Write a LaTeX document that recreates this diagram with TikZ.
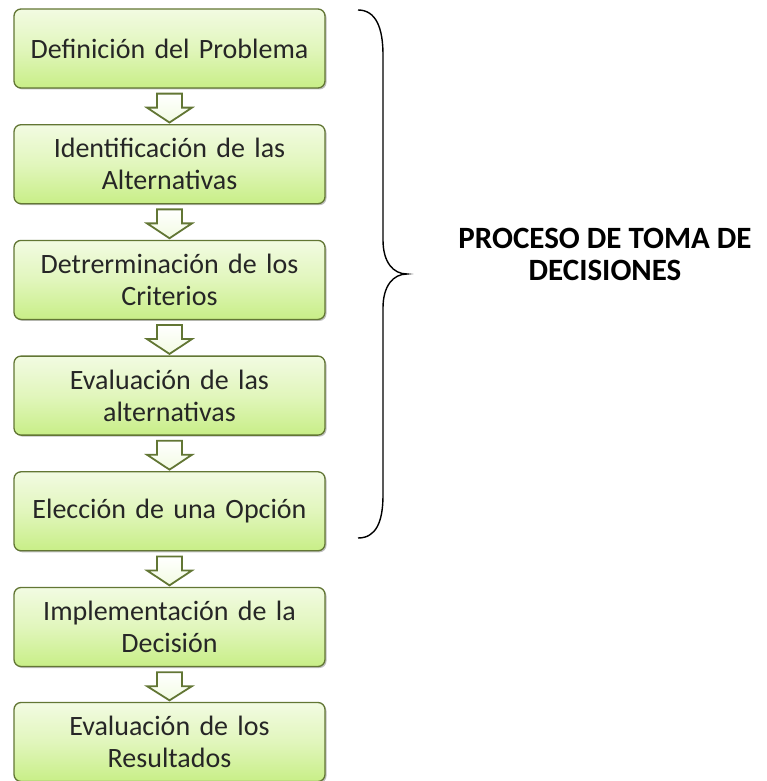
\documentclass[tikz,border=0pt]{standalone}
\usepackage{fontspec}
\setmainfont{Carlito}
\usetikzlibrary{calc,shadows}
\definecolor{boxtop}{RGB}{242,251,226}
\definecolor{boxmid}{RGB}{225,246,188}
\definecolor{boxbot}{RGB}{200,238,135}
\definecolor{olive}{RGB}{98,118,52}
\tikzset{
  stepbox/.style={draw=olive, line width=1.3pt, rounded corners=7pt,
    minimum width=311pt, minimum height=79pt, text width=305pt, align=center,
    top color=boxtop, bottom color=boxbot, middle color=boxmid,
    drop shadow={shadow xshift=1.5pt, shadow yshift=-1.5pt, opacity=0.25, fill=black},
    font=\fontsize{28}{32}\selectfont, text=black!85, inner sep=0pt},
  blockarrow/.style={draw=olive, line width=1.8pt, line join=miter,
    top color=white, bottom color=boxtop},
  bracestyle/.style={draw=black, line width=1.4pt},
  titletext/.style={font=\bfseries\fontsize{31}{32}\selectfont, align=center}
}
\newcommand{\blockarr}[2]{%
  \path[blockarrow] ($(#1.south)+(-12.5,5)$) -- ++(25,0) -- ++(0,14) -- ++(10,0)
    -- ($(#2.north)+(0,-1.5)$) -- ($(#1.south)+(-22.5,19)$) -- ++(10,0) -- cycle;}
\begin{document}
\begin{tikzpicture}[x=1pt,y=-1pt]
\useasboundingbox (0,0) rectangle (766,781);
\node[stepbox] (b1) at (169.5,48.5) {Definición del Problema};
\node[stepbox] (b2) at (169.5,164.2) {Identificación de las\\Alternativas};
\node[stepbox] (b3) at (169.5,279.9) {Detrerminación de los\\Criterios};
\node[stepbox] (b4) at (169.5,395.6) {Evaluación de las\\alternativas};
\node[stepbox] (b5) at (169.5,511.3) {Elección de una Opción};
\node[stepbox] (b6) at (169.5,627.0) {Implementación de la\\Decisión};
\node[stepbox] (b7) at (169.5,742.0) {Evaluación de los\\Resultados};
\blockarr{b1}{b2}
\blockarr{b2}{b3}
\blockarr{b3}{b4}
\blockarr{b4}{b5}
\blockarr{b5}{b6}
\blockarr{b6}{b7}
\coordinate (btop) at (358,10);
\coordinate (btip) at (407,274);
\coordinate (bbot) at (358,538);
\draw[bracestyle] (btop) .. controls (376,10) and (383,28) .. (383,55)
  -- (383,240) .. controls (383,262) and (393,274) .. (btip)
  .. controls (393,274) and (383,286) .. (383,308)
  -- (383,495) .. controls (383,522) and (376,538) .. (bbot);
\node[titletext] (title) at (605,254) {PROCESO DE TOMA DE\\DECISIONES};
\end{tikzpicture}
\end{document}
